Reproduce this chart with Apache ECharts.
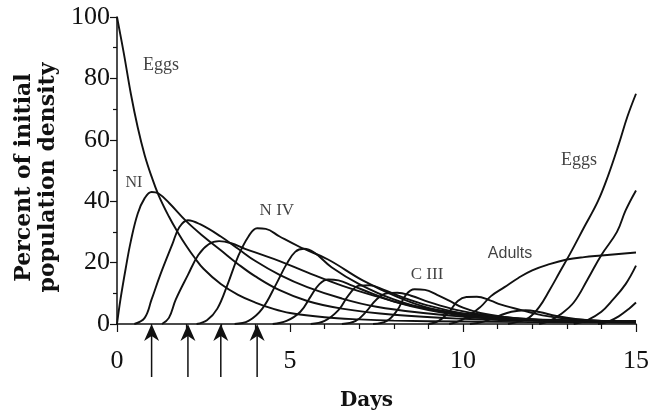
<!DOCTYPE html>
<html>
<head>
<meta charset="utf-8">
<script src="https://cdn.jsdelivr.net/npm/echarts@6/dist/echarts.min.js"></script>
<style>
html,body{margin:0;padding:0;background:#fff;}
#chart{width:661px;height:416px;}
</style>
</head>
<body>
<div id="chart"></div>
<script>
// ---- data: [day, percent of initial population density] ----
var eggs1 = [[0,100],[0.2,88],[0.4,75],[0.6,64],[0.8,55],[1.0,48],[1.2,42],[1.5,35],[1.75,30],[2,25.5],[2.25,21.5],[2.5,18],[3,13],[3.5,9.5],[4,7],[4.5,5],[5,3.6],[6,2.2],[7,1.5],[8,1.1],[10,0.8],[12,0.6],[15,0.5]];
var nI = [[0,0],[0.1,8],[0.25,18],[0.4,27],[0.6,36],[0.8,41],[1.0,43],[1.2,42.5],[1.5,39.5],[2,33.5],[2.5,28.5],[3,24],[3.5,19.5],[4,15.5],[4.7,11],[5.5,7.5],[6.5,5],[8,3],[10,1.7],[12,1.1],[15,0.7]];
var nII = [[0.5,0],[0.8,2],[1.0,8],[1.25,16],[1.6,26],[1.8,31.5],[2.05,33.8],[2.4,32.5],[3,28.5],[3.5,24.5],[4,20.5],[4.7,16],[5.5,12],[6.5,8.3],[7.5,5.6],[9,3.4],[10,2.4],[12,1.3],[15,0.8]];
var nIII = [[1.3,0],[1.5,2],[1.7,8],[2.05,16],[2.35,22.5],[2.65,26],[2.95,27],[3.3,26.3],[3.7,24.5],[4.2,22.5],[4.7,20.5],[5.5,16.8],[6.5,12.5],[7.5,9],[8.5,6],[10,3.4],[12,1.6],[15,0.9]];
var nIV = [[2.3,0],[2.6,1.2],[2.9,5],[3.2,13],[3.5,22],[3.8,28.5],[4.05,31.2],[4.3,31],[4.7,28.5],[5.3,25],[6.1,21],[7.1,14.2],[8.1,8.8],[9,5.2],[10,3.1],[11,2],[12,1.4],[15,0.9]];
var nV = [[3.4,0],[3.8,1],[4.2,5],[4.6,13],[4.9,19.5],[5.15,23.5],[5.4,24.5],[5.7,23.3],[6.2,18.5],[7,13],[8,8],[9,4.8],[10,2.9],[11,1.9],[12,1.3],[15,0.8]];
var nVI = [[4.5,0],[4.9,1],[5.3,4],[5.6,9],[5.85,13],[6.1,14.5],[6.4,14.2],[6.8,12.5],[7.4,9.8],[8,7.3],[9,4.5],[10,2.7],[11,1.7],[12,1.2],[15,0.6]];
var cI = [[5.6,0],[6,1],[6.4,4.5],[6.7,9.5],[7.0,12.5],[7.3,12.6],[7.7,11.2],[8.3,8.5],[9,6],[10,3.4],[11,2],[12,1.3],[15,0.6]];
var cII = [[6.5,0],[6.9,1],[7.2,4],[7.5,8],[7.8,10],[8.1,10.2],[8.5,9.2],[9,7.2],[9.8,4.6],[10.8,2.6],[12,1.4],[15,0.6]];
var cIII = [[7.4,0],[7.8,1],[8.1,4.5],[8.35,9.5],[8.6,11.3],[8.9,11.1],[9.25,9.5],[9.6,7.6],[10,5.3],[10.5,3.6],[11.2,2.3],[12,1.5],[13,0.9],[15,0.5]];
var cIV = [[9.0,0],[9.3,1],[9.6,4],[9.85,7.5],[10.1,8.8],[10.4,8.9],[10.8,7.6],[11.1,6.3],[11.9,3.9],[12.3,2.8],[13,1.7],[14,1],[15,0.7]];
var cV = [[10.2,0],[10.6,0.8],[11,2.5],[11.4,4],[11.8,4.5],[12.2,3.9],[12.7,2.6],[13.3,1.6],[14,1],[15,0.7]];
var adults = [[9.6,0],[10,1.5],[10.5,5.5],[10.8,9],[11.2,12],[11.6,15],[12,17.5],[12.5,19.5],[13,21],[13.5,21.8],[14,22.3],[14.5,22.8],[15,23.3]];
var eggs2 = [[11.3,0],[11.6,0.8],[11.9,2],[12.2,5.5],[12.5,11],[12.8,17],[13.1,23],[13.5,31.5],[13.9,40],[14.2,48.5],[14.5,58.5],[14.75,67.5],[15,75]];
var nI2 = [[12.2,0],[12.5,1],[12.8,3],[13.2,7],[13.6,14.5],[14,22.5],[14.45,30],[14.7,37],[15,43.5]];
var nII2 = [[13.2,0],[13.6,1.3],[14,4],[14.3,7.5],[14.7,13],[15,19]];
var nIII2 = [[13.9,0],[14.2,0.8],[14.5,2.5],[14.8,5],[15,7]];

var curves = [eggs1, nI, nII, nIII, nIV, nV, nVI, cI, cII, cIII, cIV, cV, adults, eggs2, nI2, nII2, nIII2];

// sampling days marked by arrows
var arrowDays = [1.0, 2.05, 3.0, 4.05];

// curve labels
var labelTexts = ['Eggs', 'NI', 'N IV', 'C III', 'Adults', 'Eggs'];
var labelDays = [1.27, 0.49, 4.62, 8.96, 11.36, 13.35];
var labelValues = [84.2, 46.1, 37.1, 16.1, 22.9, 53.2];

var xTicks = [0, 5, 10, 15];
var yTicks = [0, 20, 40, 60, 80, 100];

var serif = '"Liberation Serif", "Times New Roman", serif';

var series = curves.map(function (c) {
  return {
    type: 'line', data: c, smooth: 0.4, showSymbol: false,
    lineStyle: { color: '#111', width: 1.9 }, silent: true, z: 2
  };
});

series.push({
  type: 'custom', clip: false, silent: true, z: 5,
  data: arrowDays.map(function (d) { return [d, 0]; }),
  renderItem: function (params, api) {
    var p = api.coord([api.value(0), api.value(1)]);
    var x = p[0], y = p[1];
    return {
      type: 'group', children: [
        { type: 'line', shape: { x1: x, y1: y + 10, x2: x, y2: y + 53 }, style: { stroke: '#111', lineWidth: 1.5 } },
        { type: 'polygon', shape: { points: [[x, y], [x + 7.5, y + 17], [x, y + 12], [x - 7.5, y + 17]] }, style: { fill: '#111' } }
      ]
    };
  }
});

var labelFonts = [serif, serif, serif, serif, '"Liberation Sans", Arial, sans-serif', serif];
var labelSizes = [18, 16, 17, 17, 16, 18];
series.push({
  type: 'scatter', symbolSize: 0, silent: true, z: 6,
  data: labelTexts.map(function (t, i) {
    return {
      name: t, value: [labelDays[i], labelValues[i]],
      label: { show: true, position: 'inside', formatter: t, color: '#111', fontFamily: labelFonts[i], fontSize: labelSizes[i] }
    };
  })
});

var chart = echarts.init(document.getElementById('chart'), null, { renderer: 'canvas' });
chart.setOption({
  animation: false,
  backgroundColor: '#fff',
  grid: { left: 117, right: 25, top: 17, bottom: 89 },
  xAxis: {
    type: 'value', min: 0, max: 15, interval: 5,
    name: 'Days', nameLocation: 'middle', nameGap: 67,
    nameTextStyle: { fontFamily: '"DejaVu Serif", serif', fontWeight: 'bold', fontSize: 20, color: '#111', padding: [0, 20, 0, 0] },
    axisLine: { lineStyle: { color: '#111', width: 1.5 } },
    axisTick: { show: true, inside: false, length: 8, lineStyle: { color: '#111', width: 1.2 } },
    minorTick: { show: true, splitNumber: 5, length: 5, lineStyle: { color: '#111', width: 1.2 } },
    splitLine: { show: false },
    axisLabel: { margin: 24, fontFamily: serif, fontSize: 26, color: '#111',
      formatter: function (v) { return xTicks.indexOf(v) >= 0 ? String(v) : ''; } }
  },
  yAxis: {
    type: 'value', min: 0, max: 100, interval: 20,
    name: 'Percent of initial\npopulation density', nameLocation: 'middle', nameGap: 55, nameRotate: 90,
    nameTextStyle: { fontFamily: '"DejaVu Serif", serif', fontWeight: 'bold', fontSize: 22, color: '#111', lineHeight: 24, padding: [0, 14, 0, 0] },
    axisLine: { show: true, lineStyle: { color: '#111', width: 1.5 } },
    axisTick: { show: true, inside: false, length: 7, lineStyle: { color: '#111', width: 1.2 } },
    minorTick: { show: true, splitNumber: 2, length: 4, lineStyle: { color: '#111', width: 1.2 } },
    splitLine: { show: false },
    axisLabel: { margin: 7, fontFamily: serif, fontSize: 26, color: '#111',
      formatter: function (v) { return yTicks.indexOf(v) >= 0 ? String(v) : ''; } }
  },
  series: series
});
</script>
</body>
</html>
